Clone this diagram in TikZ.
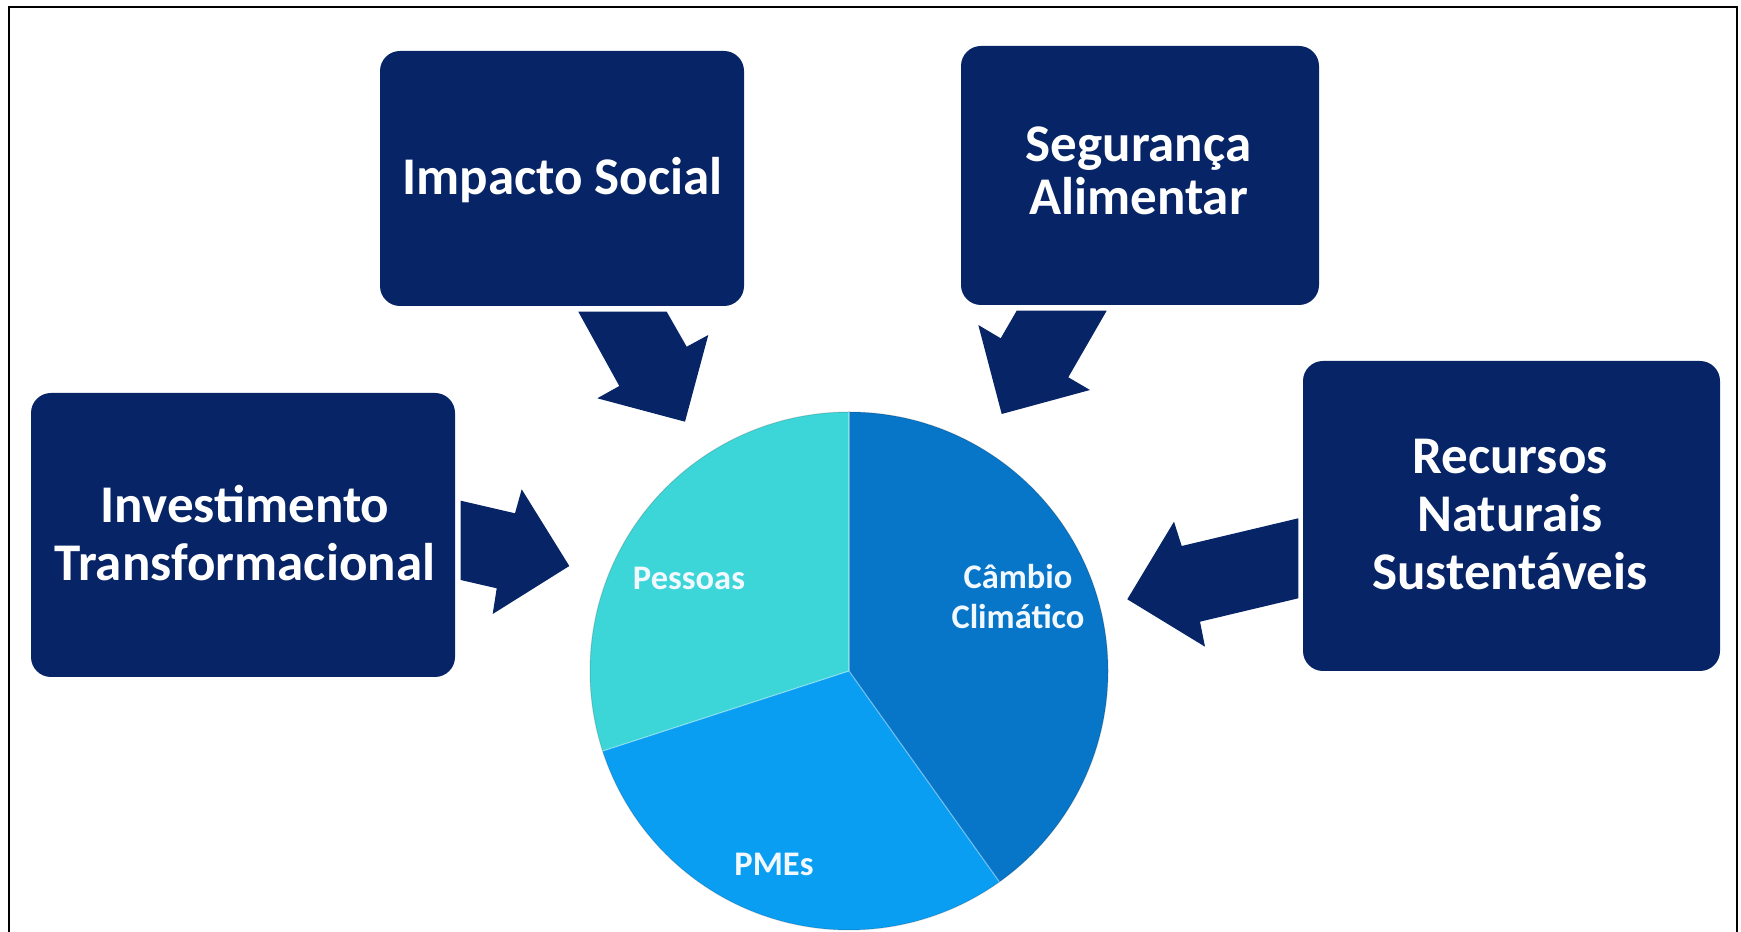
\documentclass[tikz,border=0pt]{standalone}
\usepackage{fontspec}
\setmainfont{Carlito}
\definecolor{navy}{RGB}{6,36,102}
\definecolor{pessoas}{RGB}{60,214,216}
\definecolor{pmes}{RGB}{10,158,242}
\definecolor{cambio}{RGB}{8,118,200}
\definecolor{labelwhite}{RGB}{242,248,255}
\begin{document}
\begin{tikzpicture}[x=1pt,y=1pt,
  box/.style={fill=navy, rounded corners=20pt, inner sep=0pt, outer sep=0pt},
  boxtext/.style={text=white, align=center, inner sep=0pt, font=\bfseries\fontsize{53}{58}\selectfont},
  pietext/.style={text=labelwhite, align=center, inner sep=0pt, font=\bfseries\fontsize{34.5}{40}\selectfont},
  blockarrow/.style={fill=navy},
  slice/.style={draw=white, draw opacity=0.35, line width=1.2pt, line join=round}]
\useasboundingbox (0,0) rectangle (1741,932);
% frame
\draw[line width=2.5pt] (9,-5) -- (9,925) -- (1737,925) -- (1737,-5);
% block arrows
\fill[blockarrow] (578.3,620.3) -- (666.7,620.3) -- (686.7,585.3) -- (708.3,597) -- (685,510.3) -- (597.3,533.7) -- (619.3,546) -- cycle;
\fill[blockarrow] (1016.7,621.3) -- (1106.7,621.3) -- (1068.3,554.7) -- (1090,542) -- (1001.7,518) -- (978.3,607) -- (1000.7,593.7) -- cycle;
\fill[blockarrow] (460.7,431.3) -- (515,418.7) -- (521.7,442.7) -- (569.3,366) -- (492.7,318) -- (496.7,343.7) -- (460.7,352) -- cycle;
\fill[blockarrow] (1298.3,413.7) -- (1181.7,386) -- (1174,410.3) -- (1127.3,332.7) -- (1205,285.3) -- (1200,310.3) -- (1298.3,333.7) -- cycle;
% boxes
\node[box, minimum width=364pt, minimum height=255pt] (imp) at (562,753.5) {};
\node[box, minimum width=358pt, minimum height=259pt] (seg) at (1140,756.5) {};
\node[box, minimum width=424pt, minimum height=284pt] (inv) at (243,397) {};
\node[box, minimum width=417pt, minimum height=310pt] (rec) at (1511.5,416) {};
\node[boxtext] (impT) at (562.5,752) {Impacto Social};
\node[boxtext, font=\bfseries\fontsize{53}{53}\selectfont] (segT) at (1138.5,761.5) {Segurança\\Alimentar};
\node[boxtext] (invT) at (245,398.7) {Investimento\\Transformacional};
\node[boxtext] (recT) at (1510,417.5) {Recursos\\Naturais\\Sustentáveis};
% pie
\coordinate (c) at (849,261);
\fill[cambio] (c) -- ++(90:259pt) arc[start angle=90, end angle=-54.5, radius=259pt] -- cycle;
\fill[pmes] (c) -- ++(-54.5:259pt) arc[start angle=-54.5, end angle=-162, radius=259pt] -- cycle;
\fill[pessoas] (c) -- ++(198:259pt) arc[start angle=198, end angle=90, radius=259pt] -- cycle;
\draw[slice] (c) -- ++(90:259pt);
\draw[slice] (c) -- ++(-54.5:259pt);
\draw[slice] (c) -- ++(198:259pt);
\draw[draw=black, draw opacity=0.15, line width=1pt] (c) circle[radius=259pt];
\node[pietext] (pes) at (689,354) {Pessoas};
\node[pietext] (cam) at (1018,335) {Câmbio\\Climático};
\node[pietext] (pme) at (774,67.5) {PMEs};
\end{tikzpicture}
\end{document}
